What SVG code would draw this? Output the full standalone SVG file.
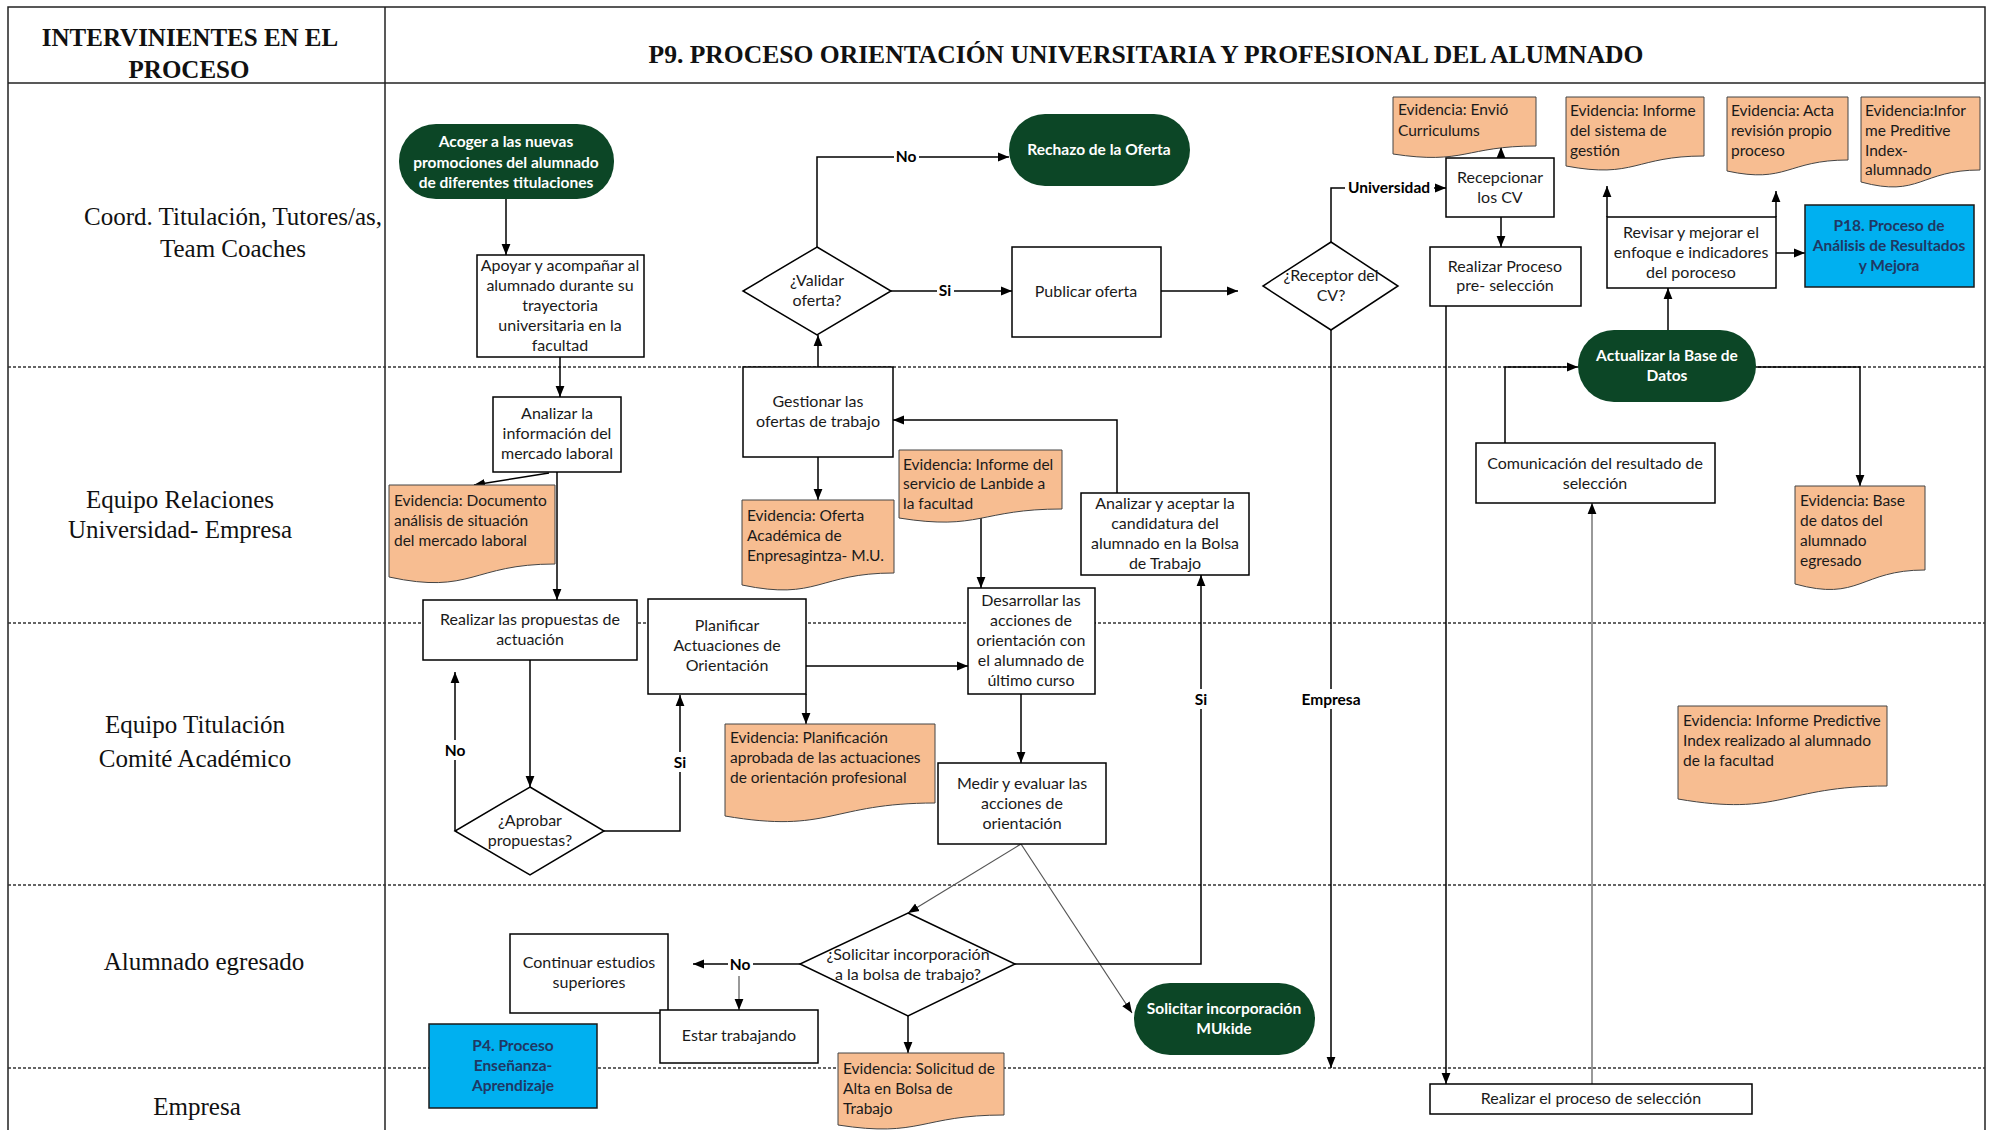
<svg xmlns="http://www.w3.org/2000/svg" width="1993" height="1130" viewBox="0 0 1993 1130">
<defs>
<marker id="ah" viewBox="0 0 10 10" refX="10" refY="5" markerWidth="11" markerHeight="11" markerUnits="userSpaceOnUse" orient="auto"><path d="M0,1 L10,5 L0,9 z" fill="#000"/></marker>
<style>
.frame{fill:none;stroke:#222;stroke-width:1.5}
.lane-line{stroke:#333;stroke-width:1.5;stroke-dasharray:3 2;fill:none}
.box{fill:#fff;stroke:#000;stroke-width:1.5}
.pill{fill:#0c4626}
.doc{fill:#f7bd91;stroke:#444;stroke-width:1}
.blue{fill:#00b0f0;stroke:#1a1a1a;stroke-width:1.5}
.t{font-family:Lato,'Liberation Sans',sans-serif;font-size:16px;fill:#1a1a1a;text-anchor:middle}
.tw{font-family:Lato,'Liberation Sans',sans-serif;font-size:15.5px;fill:#fff;font-weight:bold;text-anchor:middle}
.tb{font-family:Lato,'Liberation Sans',sans-serif;font-size:15.5px;fill:#1f3864;font-weight:bold;text-anchor:middle}
.te{font-family:Lato,'Liberation Sans',sans-serif;font-size:15.5px;fill:#1a1a1a;text-anchor:start}
.lbl{font-family:Lato,'Liberation Sans',sans-serif;font-size:15.5px;fill:#000;font-weight:bold;text-anchor:middle}
.lane{font-family:'Liberation Serif',serif;font-size:25px;fill:#111;text-anchor:middle}
.head{font-family:'Liberation Serif',serif;font-size:25px;font-weight:bold;fill:#111;text-anchor:middle}
.conn{fill:none;stroke:#000;stroke-width:1.5;marker-end:url(#ah)}
.thin{fill:none;stroke:#555;stroke-width:1.2;marker-end:url(#ah)}
.lb{fill:#fff}
</style>
</defs>
<rect x="0" y="0" width="1993" height="1130" fill="#fff"/>
<!-- frame and lanes -->
<g id="frame">
<rect class="frame" x="8" y="7" width="1977" height="1130"/>
<line class="frame" x1="8" y1="83" x2="1985" y2="83"/>
<line class="frame" x1="385" y1="7" x2="385" y2="1130"/>
<line class="lane-line" x1="8" y1="367" x2="1985" y2="367"/>
<line class="lane-line" x1="8" y1="623" x2="1985" y2="623"/>
<line class="lane-line" x1="8" y1="885" x2="1985" y2="885"/>
<line class="lane-line" x1="8" y1="1068" x2="1985" y2="1068"/>
<text class="head" x="190" y="46">INTERVINIENTES EN EL</text>
<text class="head" x="189" y="78">PROCESO</text>
<text class="head" x="1146" y="63" textLength="995" lengthAdjust="spacingAndGlyphs">P9. PROCESO ORIENTACIÓN UNIVERSITARIA Y PROFESIONAL DEL ALUMNADO</text>
<text class="lane" x="233" y="225">Coord. Titulación, Tutores/as,</text>
<text class="lane" x="233" y="257">Team Coaches</text>
<text class="lane" x="180" y="508">Equipo Relaciones</text>
<text class="lane" x="180" y="538">Universidad- Empresa</text>
<text class="lane" x="195" y="733">Equipo Titulación</text>
<text class="lane" x="195" y="767">Comité Académico</text>
<text class="lane" x="204" y="970">Alumnado egresado</text>
<text class="lane" x="197" y="1115">Empresa</text>
</g>

<!-- connectors -->
<g id="connectors">
<path class="conn" d="M506,199 V255"/>
<path class="conn" d="M560,357 V397"/>
<path class="conn" d="M557,472 V600"/>
<path class="conn" d="M549,473 L474,485"/>
<path class="conn" d="M530,660 V787"/>
<path class="conn" d="M455,831 V672"/>
<path class="conn" d="M604,831 H680 V695"/>
<path class="conn" d="M806,666 H968"/>
<path class="conn" d="M806,694 V724"/>
<path class="conn" d="M818,367 V335"/>
<path class="conn" d="M818,457 V500"/>
<path class="conn" d="M817,247 V157 H1009"/>
<path class="conn" d="M891,291 H1012"/>
<path class="conn" d="M1161,291 H1238"/>
<path class="conn" d="M1331,242 V188 H1446"/>
<path class="conn" d="M1331,330 V1068"/>
<path class="conn" d="M1501,158 V147"/>
<path class="conn" d="M1501,217 V247"/>
<path class="conn" d="M1446,306 V1084"/>
<path class="thin" d="M1592,1084 V503"/>
<path class="conn" d="M1505,443 V367 H1578"/>
<path class="conn" d="M1668,330 V288"/>
<path class="conn" d="M1756,367 H1860 V486"/>
<path class="conn" d="M1607,217 V186"/>
<path class="conn" d="M1776,217 V191"/>
<path class="conn" d="M1776,253 H1805"/>
<path class="conn" d="M1021,694 V763"/>
<path class="conn" d="M981,510 V588"/>
<path class="conn" d="M1117,493 V420 H893"/>
<path class="thin" d="M1021,844 L908,913"/>
<path class="thin" d="M1021,844 L1132,1013"/>
<path class="conn" d="M1015,964 H1201 V575"/>
<path class="conn" d="M800,964 H693"/>
<path class="thin" d="M739,976 V1010"/>
<path class="conn" d="M908,1016 V1053"/>
<!-- labels -->
<rect class="lb" x="443" y="740" width="24" height="20"/><text class="lbl" x="455" y="756">No</text>
<rect class="lb" x="671" y="752" width="18" height="20"/><text class="lbl" x="680" y="768">Si</text>
<rect class="lb" x="894" y="147" width="25" height="20"/><text class="lbl" x="906" y="162">No</text>
<rect class="lb" x="937" y="281" width="17" height="20"/><text class="lbl" x="945" y="296">Si</text>
<rect class="lb" x="1345" y="178" width="89" height="20"/><text class="lbl" x="1389" y="193">Universidad</text>
<rect class="lb" x="1301" y="689" width="60" height="20"/><text class="lbl" x="1331" y="705">Empresa</text>
<rect class="lb" x="1192" y="689" width="18" height="20"/><text class="lbl" x="1201" y="705">Si</text>
<rect class="lb" x="728" y="954" width="25" height="20"/><text class="lbl" x="740" y="970">No</text>
</g>

<!-- nodes -->
<g id="n-acoger"><rect class="pill" x="399" y="124" width="215" height="75" rx="37"/>
<text class="tw" x="506" y="147">Acoger a las nuevas</text><text class="tw" x="506" y="168">promociones del alumnado</text><text class="tw" x="506" y="188">de diferentes titulaciones</text></g>

<g id="n-apoyar"><rect class="box" x="477" y="255" width="167" height="102"/>
<text class="t" x="560" y="271">Apoyar y acompañar al</text><text class="t" x="560" y="291">alumnado durante su</text><text class="t" x="560" y="311">trayectoria</text><text class="t" x="560" y="331">universitaria en la</text><text class="t" x="560" y="351">facultad</text></g>

<g id="n-analizar-info"><rect class="box" x="493" y="397" width="128" height="75"/>
<text class="t" x="557" y="419">Analizar la</text><text class="t" x="557" y="439">información del</text><text class="t" x="557" y="459">mercado laboral</text></g>

<g id="n-ev-documento"><path class="doc" d="M389,485 H555 V564 C472,564 472,595 389,577 Z"/>
<text class="te" x="394" y="506">Evidencia: Documento</text><text class="te" x="394" y="526">análisis de situación</text><text class="te" x="394" y="546">del mercado laboral</text></g>

<g id="n-realizar-propuestas"><rect class="box" x="423" y="600" width="214" height="60"/>
<text class="t" x="530" y="625">Realizar las propuestas de</text><text class="t" x="530" y="645">actuación</text></g>

<g id="n-aprobar"><path class="box" d="M530,787 L604,831 L530,875 L455,831 Z"/>
<text class="t" x="530" y="826">¿Aprobar</text><text class="t" x="530" y="846">propuestas?</text></g>

<g id="n-planificar"><rect class="box" x="648" y="599" width="158" height="95"/>
<text class="t" x="727" y="631">Planificar</text><text class="t" x="727" y="651">Actuaciones de</text><text class="t" x="727" y="671">Orientación</text></g>

<g id="n-ev-planificacion"><path class="doc" d="M725,724 H935 V803 C830,803 830,834 725,816 Z"/>
<text class="te" x="730" y="743">Evidencia: Planificación</text><text class="te" x="730" y="763">aprobada de las actuaciones</text><text class="te" x="730" y="783">de orientación profesional</text></g>

<g id="n-gestionar"><rect class="box" x="743" y="367" width="150" height="90"/>
<text class="t" x="818" y="407">Gestionar las</text><text class="t" x="818" y="427">ofertas de trabajo</text></g>

<g id="n-ev-oferta"><path class="doc" d="M742,500 H894 V573 C818,573 818,601 742,585 Z"/>
<text class="te" x="747" y="521">Evidencia: Oferta</text><text class="te" x="747" y="541">Académica de</text><text class="te" x="747" y="561">Enpresagintza- M.U.</text></g>

<g id="n-ev-lanbide"><path class="doc" d="M899,450 H1062 V509 C980,509 980,531 899,518 Z"/>
<text class="te" x="903" y="470">Evidencia: Informe del</text><text class="te" x="903" y="489">servicio de Lanbide a</text><text class="te" x="903" y="509">la facultad</text></g>

<g id="n-validar"><path class="box" d="M817,247 L891,291 L817,335 L743,291 Z"/>
<text class="t" x="817" y="286">¿Validar</text><text class="t" x="817" y="306">oferta?</text></g>

<g id="n-rechazo"><rect class="pill" x="1009" y="114" width="181" height="72" rx="36"/>
<text class="tw" x="1099" y="155">Rechazo de la Oferta</text></g>

<g id="n-publicar"><rect class="box" x="1012" y="247" width="149" height="90"/>
<text class="t" x="1086" y="297">Publicar oferta</text></g>

<g id="n-receptor"><path class="box" d="M1331,242 L1398,286 L1331,330 L1263,286 Z"/>
<text class="t" x="1331" y="281">¿Receptor del</text><text class="t" x="1331" y="301">CV?</text></g>

<g id="n-ev-envio"><path class="doc" d="M1393,97 H1536 V146 C1465,146 1465,165 1393,154 Z"/>
<text class="te" x="1398" y="115">Evidencia: Envió</text><text class="te" x="1398" y="136">Curriculums</text></g>

<g id="n-recepcionar"><rect class="box" x="1446" y="158" width="108" height="59"/>
<text class="t" x="1500" y="183">Recepcionar</text><text class="t" x="1500" y="203">los  CV</text></g>

<g id="n-realizar-pre"><rect class="box" x="1430" y="247" width="151" height="59"/>
<text class="t" x="1505" y="272">Realizar Proceso</text><text class="t" x="1505" y="291">pre- selección</text></g>

<g id="n-ev-informe"><path class="doc" d="M1566,97 H1704 V156 C1635,156 1635,179 1566,166 Z"/>
<text class="te" x="1570" y="116">Evidencia: Informe</text><text class="te" x="1570" y="136">del sistema de</text><text class="te" x="1570" y="156">gestión</text></g>

<g id="n-ev-acta"><path class="doc" d="M1727,97 H1848 V160 C1787,160 1787,184 1727,171 Z"/>
<text class="te" x="1731" y="116">Evidencia: Acta</text><text class="te" x="1731" y="136">revisión propio</text><text class="te" x="1731" y="156">proceso</text></g>

<g id="n-ev-preditive"><path class="doc" d="M1861,97 H1980 V170 C1920,170 1920,198 1861,182 Z"/>
<text class="te" x="1865" y="116">Evidencia:Infor</text><text class="te" x="1865" y="136">me Preditive</text><text class="te" x="1865" y="156">Index-</text><text class="te" x="1865" y="175">alumnado</text></g>

<g id="n-revisar"><rect class="box" x="1607" y="217" width="169" height="71"/>
<text class="t" x="1691" y="238">Revisar y mejorar el</text><text class="t" x="1691" y="258">enfoque e indicadores</text><text class="t" x="1691" y="278">del poroceso</text></g>

<g id="n-p18"><rect class="blue" x="1805" y="205" width="169" height="82"/>
<text class="tb" x="1889" y="231">P18. Proceso de</text><text class="tb" x="1889" y="251">Análisis de Resultados</text><text class="tb" x="1889" y="271">y Mejora</text></g>

<g id="n-actualizar"><rect class="pill" x="1578" y="330" width="178" height="72" rx="36"/>
<text class="tw" x="1667" y="361">Actualizar la Base de</text><text class="tw" x="1667" y="381">Datos</text></g>

<g id="n-comunicacion"><rect class="box" x="1476" y="443" width="239" height="60"/>
<text class="t" x="1595" y="469">Comunicación del resultado de</text><text class="t" x="1595" y="489">selección</text></g>

<g id="n-ev-base"><path class="doc" d="M1795,486 H1925 V570 C1860,570 1860,602 1795,584 Z"/>
<text class="te" x="1800" y="506">Evidencia: Base</text><text class="te" x="1800" y="526">de datos del</text><text class="te" x="1800" y="546">alumnado</text><text class="te" x="1800" y="566">egresado</text></g>

<g id="n-ev-predictive"><path class="doc" d="M1678,706 H1887 V786 C1782,786 1782,817 1678,799 Z"/>
<text class="te" x="1683" y="726">Evidencia: Informe Predictive</text><text class="te" x="1683" y="746">Index realizado al alumnado</text><text class="te" x="1683" y="766">de la facultad</text></g>

<g id="n-analizar-aceptar"><rect class="box" x="1081" y="493" width="168" height="82"/>
<text class="t" x="1165" y="509">Analizar y aceptar la</text><text class="t" x="1165" y="529">candidatura del</text><text class="t" x="1165" y="549">alumnado en la Bolsa</text><text class="t" x="1165" y="569">de Trabajo</text></g>

<g id="n-desarrollar"><rect class="box" x="968" y="588" width="127" height="106"/>
<text class="t" x="1031" y="606">Desarrollar las</text><text class="t" x="1031" y="626">acciones de</text><text class="t" x="1031" y="646">orientación con</text><text class="t" x="1031" y="666">el alumnado de</text><text class="t" x="1031" y="686">último curso</text></g>

<g id="n-medir"><rect class="box" x="938" y="763" width="168" height="81"/>
<text class="t" x="1022" y="789">Medir y evaluar las</text><text class="t" x="1022" y="809">acciones de</text><text class="t" x="1022" y="829">orientación</text></g>

<g id="n-solicitar"><path class="box" d="M908,913 L1015,964 L908,1016 L800,964 Z"/>
<text class="t" x="908" y="960">¿Solicitar incorporación</text><text class="t" x="908" y="980">a la bolsa de trabajo?</text></g>

<g id="n-mukide"><rect class="pill" x="1134" y="983" width="181" height="72" rx="36"/>
<text class="tw" x="1224" y="1014">Solicitar incorporación</text><text class="tw" x="1224" y="1034">MUkide</text></g>

<g id="n-continuar"><rect class="box" x="510" y="934" width="158" height="79"/>
<text class="t" x="589" y="968">Continuar estudios</text><text class="t" x="589" y="988">superiores</text></g>

<g id="n-estar"><rect class="box" x="660" y="1010" width="158" height="53"/>
<text class="t" x="739" y="1041">Estar trabajando</text></g>

<g id="n-p4"><rect class="blue" x="429" y="1024" width="168" height="84"/>
<text class="tb" x="513" y="1051">P4. Proceso</text><text class="tb" x="513" y="1071">Enseñanza-</text><text class="tb" x="513" y="1091">Aprendizaje</text></g>

<g id="n-ev-solicitud"><path class="doc" d="M838,1053 H1004 V1115 C921,1115 921,1138 838,1125 Z"/>
<text class="te" x="843" y="1074">Evidencia: Solicitud de</text><text class="te" x="843" y="1094">Alta en Bolsa de</text><text class="te" x="843" y="1114">Trabajo</text></g>

<g id="n-realizar-seleccion"><rect class="box" x="1430" y="1084" width="322" height="30"/>
<text class="t" x="1591" y="1104">Realizar  el proceso de selección</text></g>
</svg>
